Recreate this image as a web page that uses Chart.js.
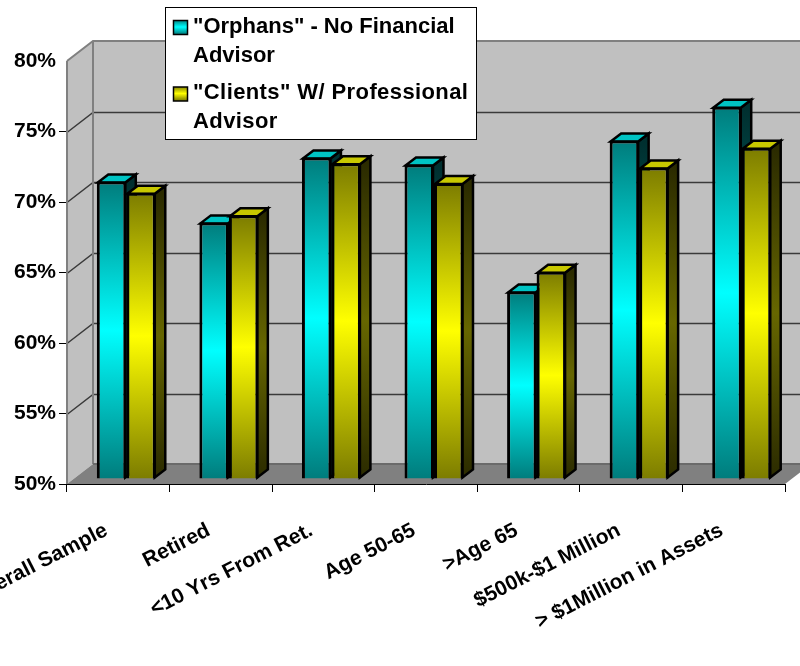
<!DOCTYPE html>
<html>
<head>
<meta charset="utf-8">
<title>Orphans vs Clients</title>
<style>
html,body{margin:0;padding:0;background:#fff}
canvas{display:block}
</style>
<script src="https://cdn.jsdelivr.net/npm/chart.js@4/dist/chart.umd.min.js"></script>
</head>
<body>
<canvas id="c" width="800" height="666"></canvas>
<script>
const categories = ['Overall Sample','Retired','<10 Yrs From Ret.','Age 50-65','>Age 65','$500k-$1 Million','> $1Million in Assets'];
const orphans = [71.1,68.2,72.8,72.3,63.3,74.0,76.4];
const clients = [70.3,68.7,72.4,71.0,64.7,72.1,73.5];
const orphansLegend = ['"Orphans" - No Financial','Advisor'];
const clientsLegend = ['"Clients" W/ Professional','Advisor'];
const yMin = 50, yMax = 80, yStep = 5;

const FONT = 'bold 22px "Liberation Sans", Arial, sans-serif';
const WALL = {dx:26, dy:-20};      // depth of the box the bars stand in
const SEAT = {dx:8, dy:-5};        // how far the bars sit back from the front edge
const BAR = {dx:10.5, dy:-8};      // depth of each bar

const TEAL = {edge:'#007c7c', mid:'#00ffff', top:'#00c4c4', sideEdge:'#002f2f', sideMid:'#006666'};
const OLIVE = {edge:'#7c7c00', mid:'#ffff00', top:'#c8c800', sideEdge:'#2b2b00', sideMid:'#666600'};

function vGradient(ctx, y0, y1, pal, side){
  const g = ctx.createLinearGradient(0,y0,0,y1);
  g.addColorStop(0, side ? pal.sideEdge : pal.edge);
  g.addColorStop(.5, side ? pal.sideMid : pal.mid);
  g.addColorStop(1, side ? pal.sideEdge : pal.edge);
  return g;
}
function frontFill(pal){
  return c => {
    if (c.type !== 'data') return pal.edge;
    const y = c.chart.scales.y;
    const y0 = y.getPixelForValue(c.raw), y1 = y.getPixelForValue(yMin);
    if (!isFinite(y0) || !isFinite(y1)) return pal.edge;
    return vGradient(c.chart.ctx, y0, y1, pal, false);
  };
}
function poly(ctx, pts){
  ctx.beginPath();
  pts.forEach((p,i)=> i ? ctx.lineTo(p[0],p[1]) : ctx.moveTo(p[0],p[1]));
  ctx.closePath();
}
function drawWalls(chart){
  const {ctx, chartArea:a, scales:{y}} = chart;
  const d = WALL;
  ctx.save();
  ctx.fillStyle = '#c0c0c0';
  ctx.fillRect(a.left+d.dx, a.top+d.dy, a.width, a.height);
  poly(ctx, [[a.left,a.top],[a.left+d.dx,a.top+d.dy],[a.left+d.dx,a.bottom+d.dy],[a.left,a.bottom]]);
  ctx.fill();
  ctx.fillStyle = '#808080';
  poly(ctx, [[a.left,a.bottom],[a.left+d.dx,a.bottom+d.dy],[a.right+d.dx,a.bottom+d.dy],[a.right,a.bottom]]);
  ctx.fill();
  // gridlines run across the left wall and then along the back wall
  ctx.strokeStyle = '#3a3a3a';
  ctx.lineWidth = 1.5;
  y.ticks.forEach(t => {
    if (t.value === yMin || t.value === yMax) return;
    const py = Math.round(y.getPixelForValue(t.value)) + .5;
    ctx.beginPath();
    ctx.moveTo(a.left, py);
    ctx.lineTo(a.left+d.dx, py+d.dy);
    ctx.lineTo(a.right+d.dx, py+d.dy);
    ctx.stroke();
  });
  // wall edges
  ctx.strokeStyle = '#808080';
  ctx.lineWidth = 2;
  ctx.beginPath();
  ctx.moveTo(a.left, a.top);
  ctx.lineTo(a.left+d.dx, a.top+d.dy);
  ctx.lineTo(a.right+d.dx, a.top+d.dy);
  ctx.moveTo(a.left+d.dx, a.top+d.dy);
  ctx.lineTo(a.left+d.dx, a.bottom+d.dy);
  ctx.moveTo(a.left, a.top);
  ctx.lineTo(a.left, a.bottom);
  ctx.stroke();
  ctx.strokeStyle = '#6a6a6a';
  ctx.beginPath();
  ctx.moveTo(a.left+d.dx, a.bottom+d.dy);
  ctx.lineTo(a.right+d.dx, a.bottom+d.dy);
  ctx.stroke();
  ctx.restore();
}
function drawBars(chart, index, pal){
  const ctx = chart.ctx;
  const meta = chart.getDatasetMeta(index);
  ctx.lineWidth = 2.5;
  ctx.strokeStyle = '#000';
  ctx.lineJoin = 'miter';
  meta.data.forEach(el => {
    const l = el.x - el.width/2 + 1, r = el.x + el.width/2 - 1, t = el.y + 1, b = el.base - 1;
    poly(ctx, [[r,t],[r+BAR.dx,t+BAR.dy],[r+BAR.dx,b+BAR.dy],[r,b]]);
    ctx.fillStyle = vGradient(ctx, t, b, pal, true);
    ctx.fill(); ctx.stroke();
    poly(ctx, [[l,t],[l+BAR.dx,t+BAR.dy],[r+BAR.dx,t+BAR.dy],[r,t]]);
    ctx.fillStyle = pal.top;
    ctx.fill(); ctx.stroke();
  });
  meta.data.forEach(el => el.draw(ctx));
}

const box3d = {
  id:'box3d',
  beforeDatasetsDraw(chart){
    drawWalls(chart);
    // bars sit slightly back from the front edge; left series first so the right one overlaps it
    const ctx = chart.ctx;
    ctx.save();
    ctx.translate(SEAT.dx, SEAT.dy);
    drawBars(chart, 0, TEAL);
    drawBars(chart, 1, OLIVE);
    ctx.restore();
  },
  beforeDatasetDraw(){
    return false;
  },
  afterDraw(chart){
    // legend panel with wrapped entries
    const ctx = chart.ctx;
    ctx.save();
    ctx.fillStyle = '#fff';
    ctx.strokeStyle = '#000';
    ctx.lineWidth = 1;
    ctx.fillRect(165.5,7.5,311,132);
    ctx.strokeRect(165.5,7.5,311,132);
    const entries = [[orphansLegend,TEAL,20,33,'0px'],[clientsLegend,OLIVE,86.5,99,'0.4px']];
    ctx.font = FONT;
    ctx.textBaseline = 'alphabetic';
    entries.forEach(([lines,pal,sy,base,spacing]) => {
      const g = ctx.createLinearGradient(0,sy,0,sy+14);
      g.addColorStop(0,pal.edge); g.addColorStop(.5,pal.mid); g.addColorStop(1,pal.edge);
      ctx.fillStyle = g;
      ctx.fillRect(173.5,sy+.5,14,14);
      ctx.lineWidth = 1.5;
      ctx.strokeRect(173.5,sy+.5,14,14);
      ctx.fillStyle = '#000';
      ctx.letterSpacing = spacing;
      lines.forEach((s,i) => ctx.fillText(s,193,base+i*28.5));
    });
    ctx.restore();
  }
};

new Chart(document.getElementById('c'), {
  type:'bar',
  plugins:[box3d],
  data:{
    labels:categories,
    datasets:[
      {label:orphansLegend.join(' '), data:orphans, base:yMin, backgroundColor:frontFill(TEAL), borderColor:'#000', borderWidth:3, clip:false},
      {label:clientsLegend.join(' '), data:clients, base:yMin, backgroundColor:frontFill(OLIVE), borderColor:'#000', borderWidth:3, clip:false}
    ]
  },
  options:{
    responsive:false,
    animation:false,
    events:[],
    layout:{padding:{top:61,right:15,left:0,bottom:0},autoPadding:false},
    categoryPercentage:.575,
    barPercentage:1,
    plugins:{legend:{display:false},tooltip:{enabled:false},title:{display:false}},
    scales:{
      x:{
        grid:{drawOnChartArea:false,color:'#000',tickLength:8,tickColor:'#000'},
        border:{color:'#000',width:1},
        ticks:{
          autoSkip:false,maxRotation:27,minRotation:27,color:'#000',
          font:{family:'"Liberation Sans", Arial, sans-serif',size:21,weight:'bold'},
          labelOffset:-12,padding:26
        },
        afterFit(s){s.height=182;s.paddingLeft=0;s.paddingRight=0;}
      },
      y:{
        min:yMin,max:yMax,
        grid:{drawOnChartArea:false,color:'#000',tickLength:8,tickColor:c => c.tick && c.tick.value === yMax ? 'rgba(0,0,0,0)' : '#000'},
        border:{display:false},
        ticks:{
          stepSize:yStep,color:'#000',padding:3,
          font:{family:'"Liberation Sans", Arial, sans-serif',size:21,weight:'bold'},
          callback:v=>v+'%'
        },
        afterFit(s){s.width=67;s.paddingTop=0;s.paddingBottom=0;}
      }
    }
  }
});
</script>
</body>
</html>
